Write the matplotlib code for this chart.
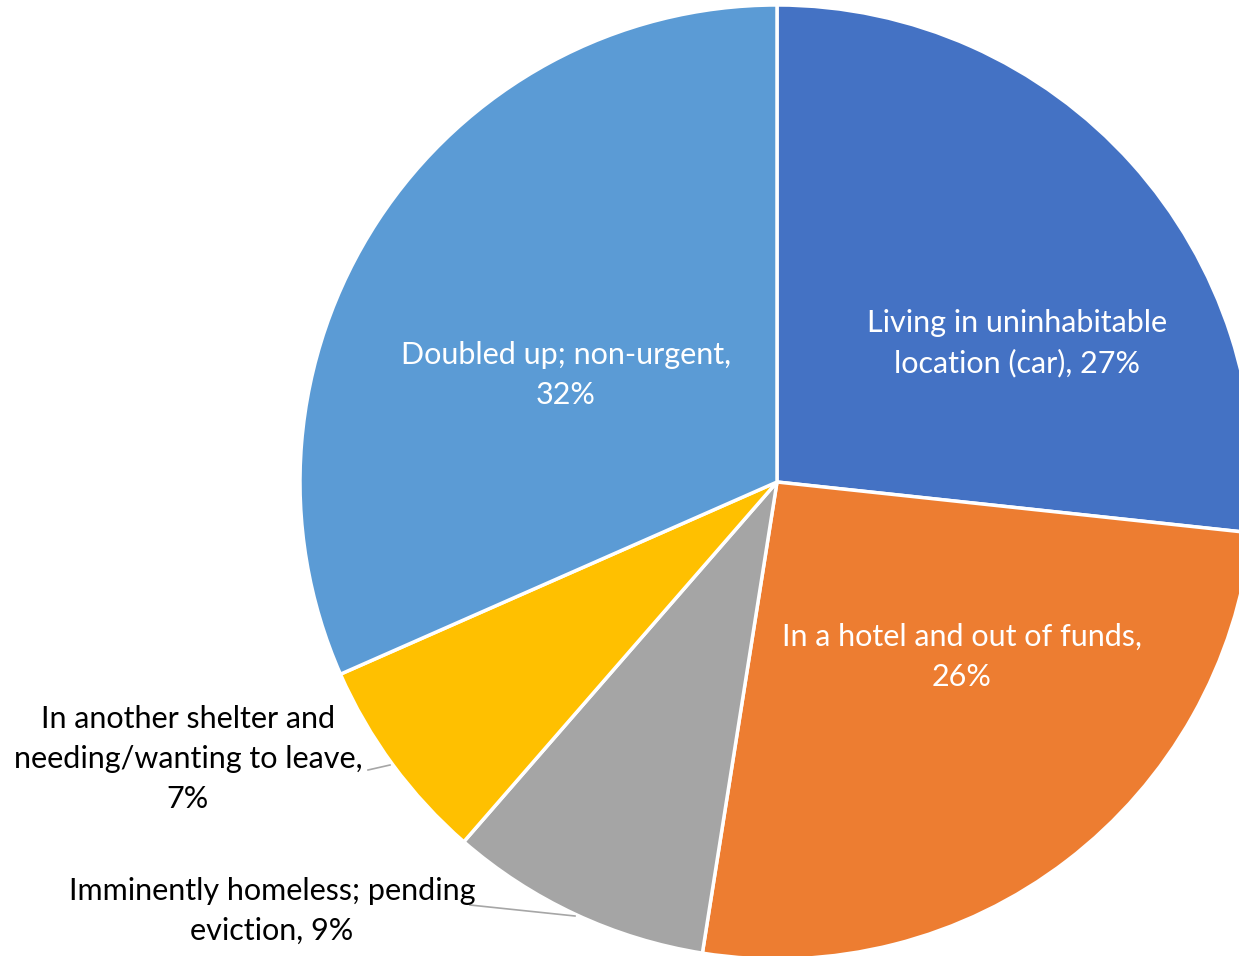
import matplotlib.pyplot as plt

# slice data, clockwise from 12 o'clock
categories = ["Living in uninhabitable\nlocation (car)",
              "In a hotel and out of funds,\n",
              "Imminently homeless; pending\neviction",
              "In another shelter and\nneeding/wanting to leave,\n",
              "Doubled up; non-urgent,\n"]
shares = [26.7, 25.8, 8.9, 7.0, 31.6]
colors = ["#4472C4", "#ED7D31", "#A5A5A5", "#FFC000", "#5B9BD5"]

W, H = 1239, 956
CX, CY, R = 777, 482, 477


def to_data(px, py):
    return (px - CX) / R, (CY - py) / R


plt.rcParams["font.family"] = ["Lato", "DejaVu Sans"]

fig = plt.figure(figsize=(W / 100, H / 100), dpi=100)
ax = fig.add_axes([0, 0, 1, 1])
ax.pie(shares, colors=colors, startangle=90, counterclock=False, radius=1,
       wedgeprops=dict(edgecolor="white", linewidth=2.5))
ax.set_xlim(-CX / R, (W - CX) / R)
ax.set_ylim(-(H - CY) / R, CY / R)
ax.set_aspect("auto")
ax.axis("off")


def label_text(i):
    name = categories[i]
    sep = "" if name.endswith("\n") else ", "
    return name + sep + "%d%%" % round(shares[i])


# label positions in pixels (x, y) and text colour
label_pos = [(1017, 343, "white"), (962, 657, "white"), (272, 911, "black"),
             (188, 759, "black"), (566, 375, "white")]

for i, (px, py, c) in enumerate(label_pos):
    x, y = to_data(px, py)
    ax.text(x, y, label_text(i), color=c, fontsize=22, ha="center", va="center",
            multialignment="center", linespacing=1.5)

# leader lines
for (x0, y0), (x1, y1) in [((368, 770), (390, 765)), ((470, 905), (575, 916))]:
    a = to_data(x0, y0)
    b = to_data(x1, y1)
    ax.plot([a[0], b[0]], [a[1], b[1]], color="#A6A6A6", lw=1.2, zorder=1)

fig.savefig("out.png", dpi=100)
